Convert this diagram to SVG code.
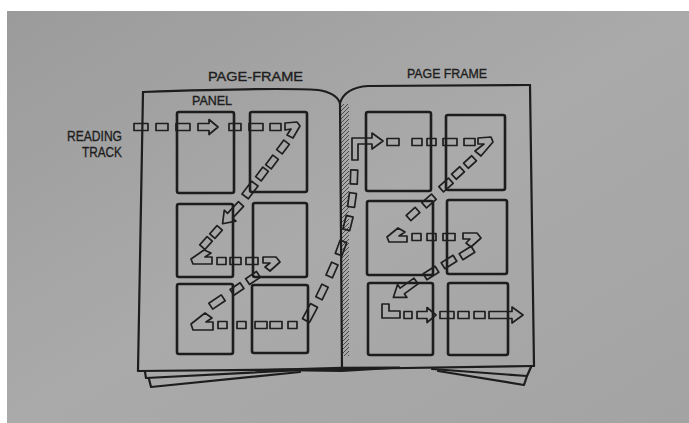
<svg xmlns="http://www.w3.org/2000/svg" width="689" height="423" viewBox="0 0 689 423">
<style>
.pg{fill:none;stroke:#1d1d1d;stroke-width:2.2;stroke-linejoin:round;stroke-linecap:round}
.pn{fill:none;stroke:#1d1d1d;stroke-width:2.6}
.d{fill:none;stroke:#1f1f1f;stroke-width:1.7;stroke-linejoin:round}
.t{font-family:"Liberation Sans",Arial,sans-serif;fill:#1e1e1e;stroke:#1e1e1e;stroke-width:0.35}
</style>
<defs>
<linearGradient id="bg" x1="0" y1="0" x2="1" y2="1">
<stop offset="0" stop-color="#9b9b9b"/>
<stop offset="0.5" stop-color="#aaaaaa"/>
<stop offset="1" stop-color="#a3a3a3"/>
</linearGradient>
<pattern id="hatch" patternUnits="userSpaceOnUse" width="4" height="4">
<path d="M-1,1 l2,-2 M0,4 l4,-4 M3,5 l2,-2" stroke="#333" stroke-width="0.8"/>
</pattern>
</defs>
<rect width="689" height="423" fill="#ffffff"/>
<rect x="7" y="11" width="682" height="412" fill="url(#bg)"/>

<g id="book">
<rect x="341" y="104" width="8" height="252" fill="url(#hatch)"/>
<path class="pg" d="M143,92 C200,90 290,88 318,90 C332,92 338,98 340,103"/>
<path class="pg" d="M340,103 C343,94 352,87 368,86 L530,85"/>
<path class="pg" d="M143,92 L138,371"/>
<path class="pg" d="M530,85 L534,366"/>
<path class="pg" d="M138,371 L342,369 L534,366"/>
<path class="pg" d="M340,103 L342,370" stroke-width="1.8"/>
<polygon points="240,369.6 342,366.8 400,366.6 400,368.6 342,372 240,370.6" fill="#1d1d1d"/>
<path class="pg" d="M145,372 L146,378 L302,370" stroke-width="1.6"/>
<path class="pg" d="M149,379 L151,387 L300,372" stroke-width="1.6"/>
<path class="pg" d="M432,369 L527,376 L531,367" stroke-width="1.6"/>
<path class="pg" d="M438,371 L524,385 L527,376" stroke-width="1.6"/>
</g>

<g id="labels">
<text class="t" x="208" y="81" font-size="13" textLength="95" lengthAdjust="spacingAndGlyphs">PAGE-FRAME</text>
<text class="t" x="407" y="78" font-size="12.5" textLength="80" lengthAdjust="spacingAndGlyphs">PAGE FRAME</text>
<text class="t" x="192" y="105" font-size="12" textLength="40" lengthAdjust="spacingAndGlyphs">PANEL</text>
<text class="t" x="67" y="141" font-size="15" textLength="55" lengthAdjust="spacingAndGlyphs">READING</text>
<text class="t" x="82" y="157" font-size="15" textLength="40" lengthAdjust="spacingAndGlyphs">TRACK</text>
</g>

<g id="panels">
<rect id="p1" class="pn" x="177" y="112" width="57" height="81" rx="2"/>
<rect id="p2" class="pn" x="250" y="112" width="57" height="80" rx="2"/>
<rect id="p3" class="pn" x="177" y="204" width="56" height="73" rx="2"/>
<rect id="p4" class="pn" x="253" y="203" width="54" height="74" rx="2"/>
<rect id="p5" class="pn" x="177" y="284" width="56" height="70" rx="2"/>
<rect id="p6" class="pn" x="252" y="285" width="56" height="68" rx="2"/>
<rect id="p7" class="pn" x="366" y="112" width="65" height="79" rx="2"/>
<rect id="p8" class="pn" x="446" y="115" width="59" height="75" rx="2"/>
<rect id="p9" class="pn" x="367" y="201" width="66" height="74" rx="2"/>
<rect id="p10" class="pn" x="447" y="200" width="60" height="74" rx="2"/>
<rect id="p11" class="pn" x="368" y="283" width="65" height="72" rx="2"/>
<rect id="p12" class="pn" x="448" y="283" width="60" height="72" rx="2"/>
</g>

<g id="connectors">
<rect class="d" x="134" y="123.5" width="14" height="7"/>
<rect class="d" x="156" y="123.5" width="12" height="7"/>
<rect class="d" x="176" y="123.5" width="14" height="7"/>
<path class="d" d="M198,123.5 H209 V119.5 L218,127 L209,134.5 V130.5 H198 Z"/>
<rect class="d" x="229" y="123.5" width="12" height="7"/>
<rect class="d" x="249" y="123.5" width="14" height="7"/>
<rect class="d" x="270" y="123.5" width="11" height="7"/>
<polygon class="d" points="285,123 297,122 300,126 293,138 287,135 291,129 285,130"/>
<rect class="d" x="-6" y="-3.5" width="12" height="7" transform="translate(283,147) rotate(-53)"/>
<rect class="d" x="-6" y="-3.5" width="12" height="7" transform="translate(272,162) rotate(-53)"/>
<rect class="d" x="-6" y="-3.5" width="12" height="7" transform="translate(262,174) rotate(-53)"/>
<rect class="d" x="-8" y="-4" width="16" height="8" transform="translate(250,190) rotate(-53)"/>
<path class="d" d="M0,-3.5 H16 V-8 L27,0 L16,8 V3.5 H0 Z" transform="translate(241,204) rotate(133)"/>
<rect class="d" x="-5.5" y="-3.5" width="11" height="7" transform="translate(216,232) rotate(-48)"/>
<rect class="d" x="-5.5" y="-3.5" width="11" height="7" transform="translate(206,243) rotate(-48)"/>
<polygon class="d" points="204,250 211,253 205,257 212,257 212,264 193,264 191,259"/>
<rect class="d" x="217" y="257.5" width="9" height="7"/>
<rect class="d" x="230" y="257.5" width="11" height="7"/>
<rect class="d" x="246" y="257.5" width="12" height="7"/>
<polygon class="d" points="263,257 276,257 280,262 270,271 265,267 270,263 263,263"/>
<rect class="d" x="-6.5" y="-3.5" width="13" height="7" transform="translate(253,278) rotate(-34)"/>
<rect class="d" x="-6" y="-3.5" width="12" height="7" transform="translate(237,289) rotate(-34)"/>
<rect class="d" x="-7.5" y="-3.5" width="15" height="7" transform="translate(217,302) rotate(-34)"/>
<polygon class="d" points="205,313 212,318 206,322 213,322 213,330 193,330 191,324"/>
<rect class="d" x="218" y="321.5" width="9" height="7"/>
<rect class="d" x="237" y="321.5" width="9" height="7"/>
<rect class="d" x="255" y="321.5" width="12" height="7"/>
<rect class="d" x="270" y="321.5" width="12" height="7"/>
<rect class="d" x="288" y="321.5" width="9" height="7"/>
<rect class="d" x="-8.5" y="-4" width="17" height="8" transform="translate(310,313) rotate(-62)"/>
<rect class="d" x="-7" y="-3.5" width="14" height="7" transform="translate(322,292) rotate(-64)"/>
<rect class="d" x="-7" y="-3.5" width="14" height="7" transform="translate(332,270) rotate(-66)"/>
<rect class="d" x="-7" y="-3.5" width="14" height="7" transform="translate(341,248) rotate(-70)"/>
<rect class="d" x="-7" y="-3.5" width="14" height="7" transform="translate(348,223) rotate(-76)"/>
<rect class="d" x="-7" y="-3.5" width="14" height="7" transform="translate(352,200) rotate(-82)"/>
<rect class="d" x="-7" y="-3.5" width="14" height="7" transform="translate(354,177) rotate(-88)"/>
<path class="d" d="M352,160 V138 H372 V133 L383,141 L372,149 V144 H358 V160 Z"/>
<rect class="d" x="387" y="138.5" width="12" height="7"/>
<rect class="d" x="412" y="138.5" width="10" height="7"/>
<rect class="d" x="427" y="138.5" width="9" height="7"/>
<rect class="d" x="443" y="138.5" width="14" height="7"/>
<rect class="d" x="464" y="138.5" width="11" height="7"/>
<polygon class="d" points="478,138 491,137 493,142 481,156 475,151 484,144 478,144"/>
<rect class="d" x="-5.5" y="-3.5" width="11" height="7" transform="translate(470,162) rotate(-42)"/>
<rect class="d" x="-5.5" y="-3.5" width="11" height="7" transform="translate(458,173) rotate(-42)"/>
<rect class="d" x="-6.5" y="-3.5" width="13" height="7" transform="translate(446,185) rotate(-42)"/>
<rect class="d" x="-6.5" y="-3.5" width="13" height="7" transform="translate(429,201) rotate(-42)"/>
<rect class="d" x="-6" y="-3.5" width="12" height="7" transform="translate(413,214) rotate(-42)"/>
<polygon class="d" points="398,228 405,232 399,236 407,236 407,242 389,242 387,237"/>
<rect class="d" x="412" y="233.5" width="9" height="7"/>
<rect class="d" x="427" y="233.5" width="9" height="7"/>
<rect class="d" x="443" y="233.5" width="12" height="7"/>
<polygon class="d" points="463,233 477,233 481,238 471,247 466,243 470,239 463,239"/>
<rect class="d" x="-7" y="-3.5" width="14" height="7" transform="translate(467,253) rotate(-32)"/>
<rect class="d" x="-7" y="-3.5" width="14" height="7" transform="translate(449,262) rotate(-32)"/>
<rect class="d" x="-7" y="-3.5" width="14" height="7" transform="translate(431,273) rotate(-32)"/>
<path class="d" d="M0,-3.5 H17 V-8 L28,0 L17,8 V3.5 H0 Z" transform="translate(416,281) rotate(144)"/>
<polygon class="d" points="382,304 389,304 389,311 400,311 400,318 382,318"/>
<rect class="d" x="404" y="311.5" width="8" height="7"/>
<path class="d" d="M417,311.5 H427 V307.5 L436,315 L427,322.5 V318.5 H417 Z"/>
<rect class="d" x="440" y="311.5" width="14" height="7"/>
<rect class="d" x="458" y="311.5" width="11" height="7"/>
<rect class="d" x="474" y="311.5" width="11" height="7"/>
<path class="d" d="M489,311.5 H512 V307 L523,315 L512,323 V318.5 H489 Z"/>
</g>
</svg>
